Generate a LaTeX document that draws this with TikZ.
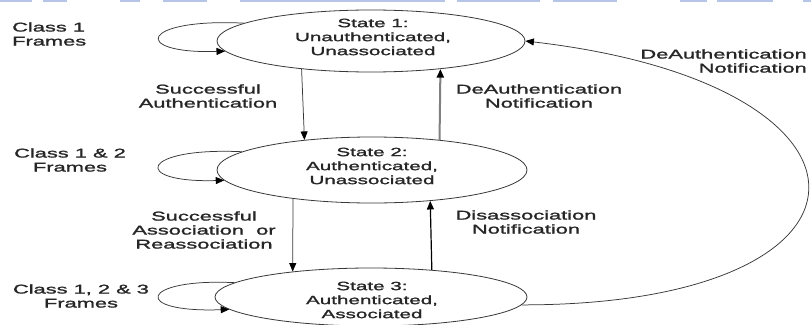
\documentclass[tikz,border=0pt]{standalone}
\usepackage{fontspec}
\newfontfamily\diagfont{Liberation Sans}[FakeStretch=1.72,FakeBold=1.5]
\usetikzlibrary{shapes.geometric,arrows.meta}
\definecolor{bandblue}{RGB}{182,196,232}
\definecolor{edgegray}{gray}{0.22}
\definecolor{upgray}{gray}{0.5}
\begin{document}
\begin{tikzpicture}[x=1pt,y=-1pt,
  state/.style={draw=edgegray, line width=0.8pt, ellipse, inner sep=0pt},
  statetext/.style={font=\diagfont\fontsize{12}{14}\selectfont, align=center, inner sep=0pt, text=black!85},
  lbl/.style={font=\diagfont\fontsize{12.7}{14}\selectfont, align=center, inner sep=0pt, text=black!85},
  tip/.style={-{Triangle[length=8.5pt,width=7pt,color=black]}},
  trans/.style={tip, line width=0.75pt, draw=edgegray},
  strong/.style={tip, line width=1.2pt, draw=black},
  back/.style={tip, line width=2pt, draw=upgray},
  loopline/.style={tip, line width=0.75pt, draw=edgegray},
]
\useasboundingbox (0,0) rectangle (811,324);
\fill[white] (0,0) rectangle (811,324);

% thin header band along the top edge
\foreach \a/\b in {0/32,43/67,120/140,163/207,240/445,457/540,553/617,680/707,717/773,803/811}
  \fill[bandblue] (\a,0) rectangle (\b,2);

% states
\node[state, minimum width=308pt, minimum height=62pt] (s1) at (371,41) {};
\node[state, minimum width=310pt, minimum height=66pt] (s2) at (372,170) {};
\node[state, minimum width=312pt, minimum height=58pt] (s3) at (371,297) {};

\node[statetext] (s1t) at (373,37) {State 1:\\Unauthenticated,\\Unassociated};
\node[statetext] (s2t) at (372,166) {State 2:\\Authenticated,\\Unassociated};
\node[statetext] (s3t) at (372,300) {State 3:\\Authenticated,\\Associated};

% self loops
\draw[loopline] (s1.172) .. controls (140,18) and (130,54) .. (s1.184);
\draw[loopline] (s2.172) .. controls (140,147) and (130,183) .. (s2.184);
\draw[loopline] (s3.174) .. controls (140,278) and (130,313) .. (s3.185);

% transitions between states
\draw[trans] (s1.202.2) -- (s2.156.8);
\draw[back] (s2.24.4) -- (s1.-22.6);
\draw[trans] (s2.200.4) -- (s3.162.1);
\draw[strong] (s3.24.6) -- (s2.-28.8);
\draw[trans] (s3.-3) .. controls (900,305) and (905,85) .. (s1.east);

% labels
\node[lbl, align=left, anchor=west] (l1) at (12,34) {Class 1\\Frames};
\node[lbl] (l2) at (208,96) {Successful\\Authentication};
\node[lbl] (l3) at (70,160) {Class 1 \& 2\\Frames};
\node[lbl] (l4) at (204,230) {Successful\\Association\ \ or\\Reassociation};
\node[lbl] (l5) at (81,296) {Class 1, 2 \& 3\\Frames};
\node[lbl] (l6) at (539,96) {DeAuthentication\\Notification};
\node[lbl] (l7) at (526,222) {Disassociation\\Notification};
\node[lbl, align=right, anchor=east] (l8) at (807,61) {DeAuthentication\\Notification};
\end{tikzpicture}
\end{document}
